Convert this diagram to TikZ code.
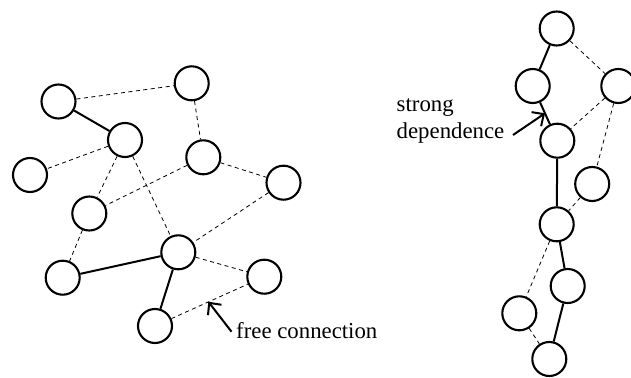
\documentclass[tikz,border=0pt]{standalone}
\usepackage{fontspec}
\setmainfont{Liberation Serif}
\usetikzlibrary{arrows.meta}
\begin{document}
\begin{tikzpicture}[x=1pt,y=-1pt,
  vtx/.style={circle,draw,line width=2.1pt,minimum size=34pt,inner sep=0pt},
  strongedge/.style={line width=2pt},
  freeedge/.style={line width=0.8pt,dash pattern=on 4pt off 3.5pt},
  pointer/.style={line width=2pt,-{Straight Barb[length=9pt,width=17pt,line width=2pt]}},
  lbl/.style={font=\fontsize{22.8}{26.4}\selectfont,inner sep=0pt,align=left}]
\useasboundingbox (0,0) rectangle (631,377);
% left network
\node[vtx] (a) at (58.5,101.5) {};
\node[vtx] (b) at (191.7,83.3) {};
\node[vtx] (c) at (125,140) {};
\node[vtx] (d) at (30,175) {};
\node[vtx] (e) at (203.3,157.3) {};
\node[vtx] (f) at (283.5,182.7) {};
\node[vtx] (g) at (89.3,213.5) {};
\node[vtx] (h) at (178.3,252.3) {};
\node[vtx] (i) at (62.7,277.7) {};
\node[vtx] (j) at (264.3,276.7) {};
\node[vtx] (k) at (155,326) {};
\draw[strongedge] (a) -- (c);
\draw[strongedge] (i) -- (h);
\draw[strongedge] (h) -- (k);
\draw[freeedge] (a) -- (b);
\draw[freeedge] (b) -- (e);
\draw[freeedge] (c) -- (d);
\draw[freeedge] (c) -- (g);
\draw[freeedge] (c) -- (h);
\draw[freeedge] (e) -- (g);
\draw[freeedge] (e) -- (f);
\draw[freeedge] (f) -- (h);
\draw[freeedge] (g) -- (i);
\draw[freeedge] (h) -- (j);
\draw[freeedge] (k) -- (j);
% right chain
\node[vtx] (r1) at (556.7,28.5) {};
\node[vtx] (r2) at (532.7,86) {};
\node[vtx] (r3) at (618.3,86) {};
\node[vtx] (r4) at (557.3,140.7) {};
\node[vtx] (r5) at (592.2,184) {};
\node[vtx] (r6) at (556.7,224.3) {};
\node[vtx] (r7) at (567.7,286) {};
\node[vtx] (r8) at (519.3,313.3) {};
\node[vtx] (r9) at (549.3,359) {};
\draw[strongedge] (r1) -- (r2);
\draw[strongedge] (r2) -- (r4);
\draw[strongedge] (r4) -- (r6);
\draw[strongedge] (r6) -- (r7);
\draw[strongedge] (r7) -- (r9);
\draw[freeedge] (r1) -- (r3);
\draw[freeedge] (r3) -- (r4);
\draw[freeedge] (r3) -- (r5);
\draw[freeedge] (r5) -- (r6);
\draw[freeedge] (r6) -- (r8);
\draw[freeedge] (r8) -- (r9);
% labels
\node[lbl,anchor=base west] (free) at (236,338.3) {free connection};
\coordinate (freetail) at (231.5,331.7);
\coordinate (freetip) at (208.3,301.7);
\draw[pointer] (freetail) -- (freetip);
\node[lbl,anchor=base west] (strong) at (396.5,138) {strong\\dependence};
\coordinate (strongtail) at (513,135);
\coordinate (strongtip) at (545,113.3);
\draw[pointer] (strongtail) -- (strongtip);
\end{tikzpicture}
\end{document}
